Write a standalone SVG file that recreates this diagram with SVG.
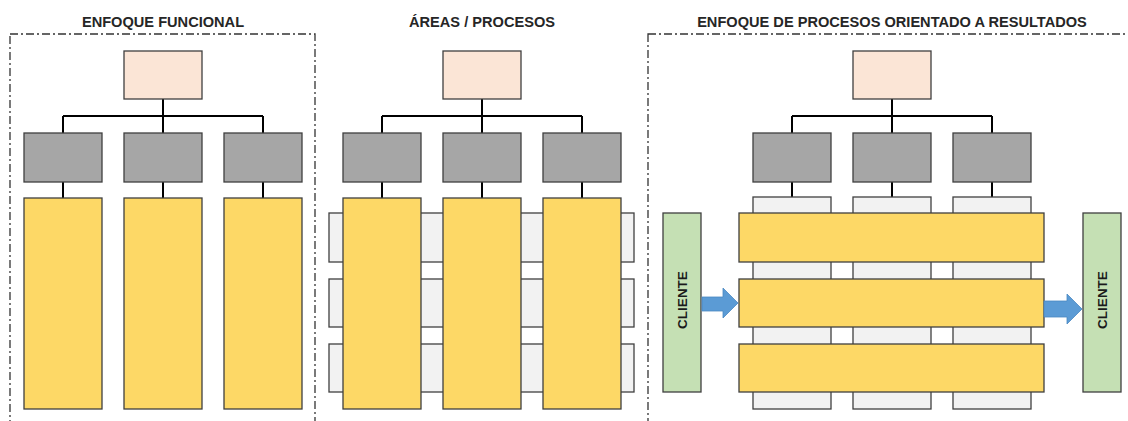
<svg xmlns="http://www.w3.org/2000/svg" width="1128" height="421" viewBox="0 0 1128 421">
  <style>
    .title { font-family: "Liberation Sans", Arial, sans-serif; font-weight: bold; font-size: 14.6px; fill: #262626; text-anchor: middle; }
    .frame { fill: none; stroke: #333333; stroke-width: 1.3; stroke-dasharray: 8 3 2 3; }
    .box { stroke: #3f3f3f; stroke-width: 1.3; }
    .head { fill: #fbe5d6; }
    .area { fill: #a6a6a6; }
    .func { fill: #fdd866; }
    .proc { fill: #f2f2f2; }
    .client { fill: #c5e0b4; }
    .link { fill: none; stroke: #000000; stroke-width: 2; }
    .arrow { fill: #5b9bd5; stroke: #4a88c2; stroke-width: 0.8; }
    .label { font-family: "Liberation Sans", Arial, sans-serif; font-weight: bold; font-size: 13.5px; fill: #1a1a1a; text-anchor: middle; }
  </style>

  <!-- Panel frames and titles -->
  <g id="frames">
    <rect class="frame" x="10" y="34" width="305" height="420"/>
    <rect class="frame" x="648" y="34" width="520" height="420"/>
    <text class="title" x="163" y="27">ENFOQUE FUNCIONAL</text>
    <text class="title" x="482" y="27">ÁREAS / PROCESOS</text>
    <text class="title" x="892" y="27">ENFOQUE DE PROCESOS ORIENTADO A RESULTADOS</text>
  </g>

  <!-- Tree connectors -->
  <g id="connectors">
    <path class="link" d="M163 99V116M63 116H263M63 116V133M163 116V133M263 116V133M63 182V198M163 182V198M263 182V198"/>
    <path class="link" d="M482 99V116M382 116H582M382 116V133M482 116V133M582 116V133M382 182V198M482 182V198M582 182V198"/>
    <path class="link" d="M892 99V116M792 116H992M792 116V133M892 116V133M992 116V133M792 182V197M892 182V197M992 182V197"/>
  </g>

  <!-- Panel 1: functional approach -->
  <g id="p1-head"><rect class="box head" x="124" y="51" width="78" height="48"/></g>
  <g id="p1-area1"><rect class="box area" x="24" y="133" width="78" height="49"/></g>
  <g id="p1-area2"><rect class="box area" x="124" y="133" width="78" height="49"/></g>
  <g id="p1-area3"><rect class="box area" x="224" y="133" width="78" height="49"/></g>
  <g id="p1-func1"><rect class="box func" x="24" y="198" width="78" height="211"/></g>
  <g id="p1-func2"><rect class="box func" x="124" y="198" width="78" height="211"/></g>
  <g id="p1-func3"><rect class="box func" x="224" y="198" width="78" height="211"/></g>

  <!-- Panel 2: areas crossed by processes -->
  <g id="p2-head"><rect class="box head" x="443" y="51" width="78" height="48"/></g>
  <g id="p2-area1"><rect class="box area" x="343" y="133" width="78" height="49"/></g>
  <g id="p2-area2"><rect class="box area" x="443" y="133" width="78" height="49"/></g>
  <g id="p2-area3"><rect class="box area" x="543" y="133" width="78" height="49"/></g>
  <g id="p2-proc1"><rect class="box proc" x="329" y="213" width="305" height="49"/></g>
  <g id="p2-proc2"><rect class="box proc" x="329" y="279" width="305" height="48"/></g>
  <g id="p2-proc3"><rect class="box proc" x="329" y="344" width="305" height="48"/></g>
  <g id="p2-func1"><rect class="box func" x="343" y="198" width="78" height="211"/></g>
  <g id="p2-func2"><rect class="box func" x="443" y="198" width="78" height="211"/></g>
  <g id="p2-func3"><rect class="box func" x="543" y="198" width="78" height="211"/></g>

  <!-- Panel 3: process approach oriented to results -->
  <g id="p3-head"><rect class="box head" x="853" y="51" width="78" height="48"/></g>
  <g id="p3-area1"><rect class="box area" x="753" y="133" width="78" height="49"/></g>
  <g id="p3-area2"><rect class="box area" x="853" y="133" width="78" height="49"/></g>
  <g id="p3-area3"><rect class="box area" x="953" y="133" width="78" height="49"/></g>
  <g id="p3-col1"><rect class="box proc" x="753" y="197" width="78" height="212"/></g>
  <g id="p3-col2"><rect class="box proc" x="853" y="197" width="78" height="212"/></g>
  <g id="p3-col3"><rect class="box proc" x="953" y="197" width="78" height="212"/></g>
  <g id="p3-proc1"><rect class="box func" x="739" y="213" width="305" height="49"/></g>
  <g id="p3-proc2"><rect class="box func" x="739" y="279" width="305" height="48"/></g>
  <g id="p3-proc3"><rect class="box func" x="739" y="344" width="305" height="48"/></g>

  <g id="client-in">
    <rect class="box client" x="663" y="213" width="38" height="179"/>
    <text class="label" transform="translate(682 300) rotate(-90)" x="0" y="4.8">CLIENTE</text>
  </g>
  <g id="client-out">
    <rect class="box client" x="1083" y="213" width="38" height="179"/>
    <text class="label" transform="translate(1102 300) rotate(-90)" x="0" y="4.8">CLIENTE</text>
  </g>

  <!-- Flow arrows -->
  <g id="flow-arrows">
    <path class="arrow" d="M702 297H723V288L738 303L723 318V311H702Z"/>
    <path class="arrow" d="M1044 301H1067V294L1082 309L1067 324V317H1044Z"/>
  </g>
</svg>
